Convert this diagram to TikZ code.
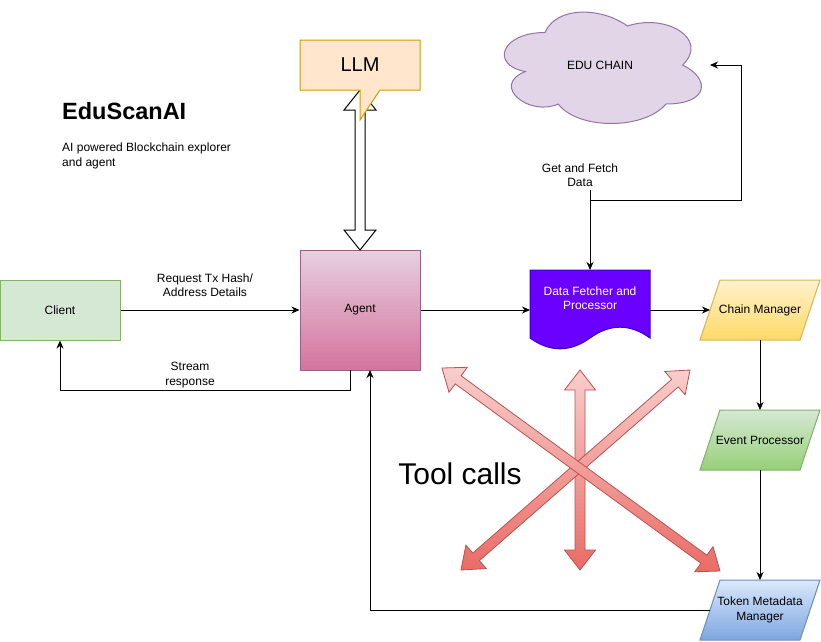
\documentclass[tikz,border=0pt]{standalone}
\usepackage{fontspec}
\setmainfont{Liberation Sans}
\usetikzlibrary{arrows.meta,calc}
\definecolor{clientfill}{HTML}{D5E8D4}
\definecolor{clientline}{HTML}{82B366}
\definecolor{agtop}{HTML}{E6D0DE}
\definecolor{agbot}{HTML}{D5739D}
\definecolor{agline}{HTML}{996185}
\definecolor{llmfill}{HTML}{FFE6CC}
\definecolor{llmline}{HTML}{D79B00}
\definecolor{cloudfill}{HTML}{E1D5E7}
\definecolor{cloudline}{HTML}{9673A6}
\definecolor{dffill}{HTML}{6A00FF}
\definecolor{dfline}{HTML}{3700CC}
\definecolor{cmtop}{HTML}{FFF2CC}
\definecolor{cmbot}{HTML}{FFD966}
\definecolor{cmline}{HTML}{D6B656}
\definecolor{eptop}{HTML}{D5E8D4}
\definecolor{epbot}{HTML}{97D077}
\definecolor{epline}{HTML}{82B366}
\definecolor{tmtop}{HTML}{DAE8FC}
\definecolor{tmbot}{HTML}{7EA6E0}
\definecolor{tmline}{HTML}{6C8EBF}
\definecolor{redtop}{HTML}{F8CECC}
\definecolor{redbot}{HTML}{EA6B66}
\definecolor{redline}{HTML}{B85450}
\newcommand\redflex[2]{%
  \coordinate (h1) at ($(#1)!20pt!(#2)$);
  \coordinate (h2) at ($(#2)!20pt!(#1)$);
  \path[redarrow] (#1) -- ($(h1)!15.5pt!90:(#2)$) -- ($(h1)!5pt!90:(#2)$)
    -- ($(h2)!5pt!-90:(#1)$) -- ($(h2)!15.5pt!-90:(#1)$) -- (#2)
    -- ($(h2)!15.5pt!90:(#1)$) -- ($(h2)!5pt!90:(#1)$)
    -- ($(h1)!5pt!-90:(#2)$) -- ($(h1)!15.5pt!-90:(#2)$) -- cycle;}
\begin{document}
\begin{tikzpicture}[x=1pt,y=-1pt,
  txt/.style={font=\fontsize{12}{14.4}\selectfont, align=center, inner sep=0pt},
  box/.style={txt, minimum width=120pt, minimum height=60pt, line width=1pt},
  anchorbox/.style={inner sep=0pt, outer sep=0pt},
  shp/.style={line width=1pt, line join=miter},
  arr/.style={draw=black, line width=1pt, -{Stealth[length=8pt,width=7pt,inset=2.5pt]}},
  plain/.style={draw=black, line width=1pt},
  redarrow/.style={draw=redline, line width=0.8pt, top color=redtop, bottom color=redbot, line join=miter}]
\useasboundingbox (0,0) rectangle (821,641);
\fill[white] (0,0) rectangle (821,641);

% title
\node[anchor=base west, inner sep=0pt, font=\fontsize{23.5}{28}\selectfont\bfseries] (title) at (62,119) {EduScanAI};
\node[txt, anchor=west, align=left] (subtitle) at (62,156) {AI powered Blockchain explorer\\and agent};

% client and agent
\node[box, fill=clientfill, draw=clientline] (client) at (60,310) {Client};
\node[box, minimum height=120pt, top color=agtop, bottom color=agbot, draw=agline] (agent) at (360,310) {Agent};

% hollow double arrow LLM <-> Agent
\path[draw=black, fill=white, line width=1pt, line join=miter]
  (360,90) -- (376,110) -- (365,110) -- (365,230) -- (376,230) -- (360,250)
  -- (344,230) -- (355,230) -- (355,110) -- (344,110) -- cycle;

% LLM callout
\path[shp, draw=llmline, fill=llmfill]
  (300,40) -- (420,40) -- (420,90) -- (380,90) -- (360,120) -- (360,90) -- (300,90) -- cycle;
\node[inner sep=0pt, font=\fontsize{20}{24}\selectfont] (llm) at (360,65) {LLM};

% cloud
\path[shp, draw=cloudline, fill=cloudfill]
  (545,32.5) .. controls (501,32.5) and (490,65) .. (525.2,71.5)
  .. controls (490,85.8) and (529.6,117) .. (558.2,104)
  .. controls (578,130) and (644,130) .. (666,104)
  .. controls (710,104) and (710,78) .. (682.5,65)
  .. controls (710,39) and (666,13) .. (627.5,26)
  .. controls (600,6.5) and (556,6.5) .. (545,32.5) -- cycle;
\node[txt, anchorbox, minimum width=220pt, minimum height=130pt] (cloud) at (600,65) {EDU CHAIN};

% data fetcher (document shape)
\path[shp, draw=dfline, fill=dffill]
  (530,270) -- (650,270) -- (650,338)
  .. controls (630,323.6) and (610,323.6) .. (590,338)
  .. controls (570,352.4) and (550,352.4) .. (530,338) -- cycle;
\node[anchorbox, minimum width=120pt, minimum height=80pt] (df) at (590,310) {};
\node[txt, text=white] (dftext) at (590,298) {Data Fetcher and\\Processor};

% chain manager, event processor, token metadata manager
\path[shp, draw=cmline, top color=cmtop, bottom color=cmbot]
  (700,340) -- (720,280) -- (820,280) -- (800,340) -- cycle;
\node[txt] (cm) at (760,310) {Chain Manager};
\path[shp, draw=epline, top color=eptop, bottom color=epbot]
  (700,470) -- (720,410) -- (820,410) -- (800,470) -- cycle;
\node[txt] (ep) at (760,440) {Event Processor};
\path[shp, draw=tmline, top color=tmtop, bottom color=tmbot]
  (700,640) -- (720,580) -- (820,580) -- (800,640) -- cycle;
\node[txt] (tm) at (760,610) {Token Metadata\\Manager};

% connector end points
\coordinate (cmw) at (710,310);
\coordinate (cms) at (760,340);
\coordinate (epn) at (760,410);
\coordinate (eps) at (760,470);
\coordinate (tmn) at (760,580);
\coordinate (tmw) at (710,610);
\coordinate (agb) at (370,370);
\coordinate (ags) at (350,370);
\coordinate (gl) at (590,190);
\coordinate (jn) at (590,200);
\coordinate (cr) at (741,65);

% connectors
\draw[arr] (client.east) -- (agent.west);
\node[txt] (reqlbl) at (205,285) {Request Tx Hash/\\Address Details};
\draw[arr] (ags) -- ++(0,20) -| (client.south);
\node[txt] (streamlbl) at (190,375) {Stream\\response};
\draw[arr] (agent.east) -- (df.west);
\draw[arr] (df.east) -- (cmw);
\draw[arr] (cms) -- (epn);
\draw[arr] (eps) -- (tmn);
\draw[arr] (tmw) -| (agb);
\draw[arr] (gl) -- (df.north);
\draw[arr] (jn) -| (cr) -- (cloud.east);
\node[txt] (getlbl) at (580,175) {Get and Fetch\\Data};

% tool calls
\coordinate (v1) at (580,370);
\coordinate (v2) at (580,570);
\coordinate (d1a) at (442,368);
\coordinate (d1b) at (720,571);
\coordinate (d2a) at (690,370);
\coordinate (d2b) at (461,570);
\redflex{v1}{v2}
\redflex{d2a}{d2b}
\redflex{d1a}{d1b}
\node[inner sep=0pt, font=\fontsize{30}{36}\selectfont] (tool) at (460,474) {Tool calls};
\end{tikzpicture}
\end{document}
